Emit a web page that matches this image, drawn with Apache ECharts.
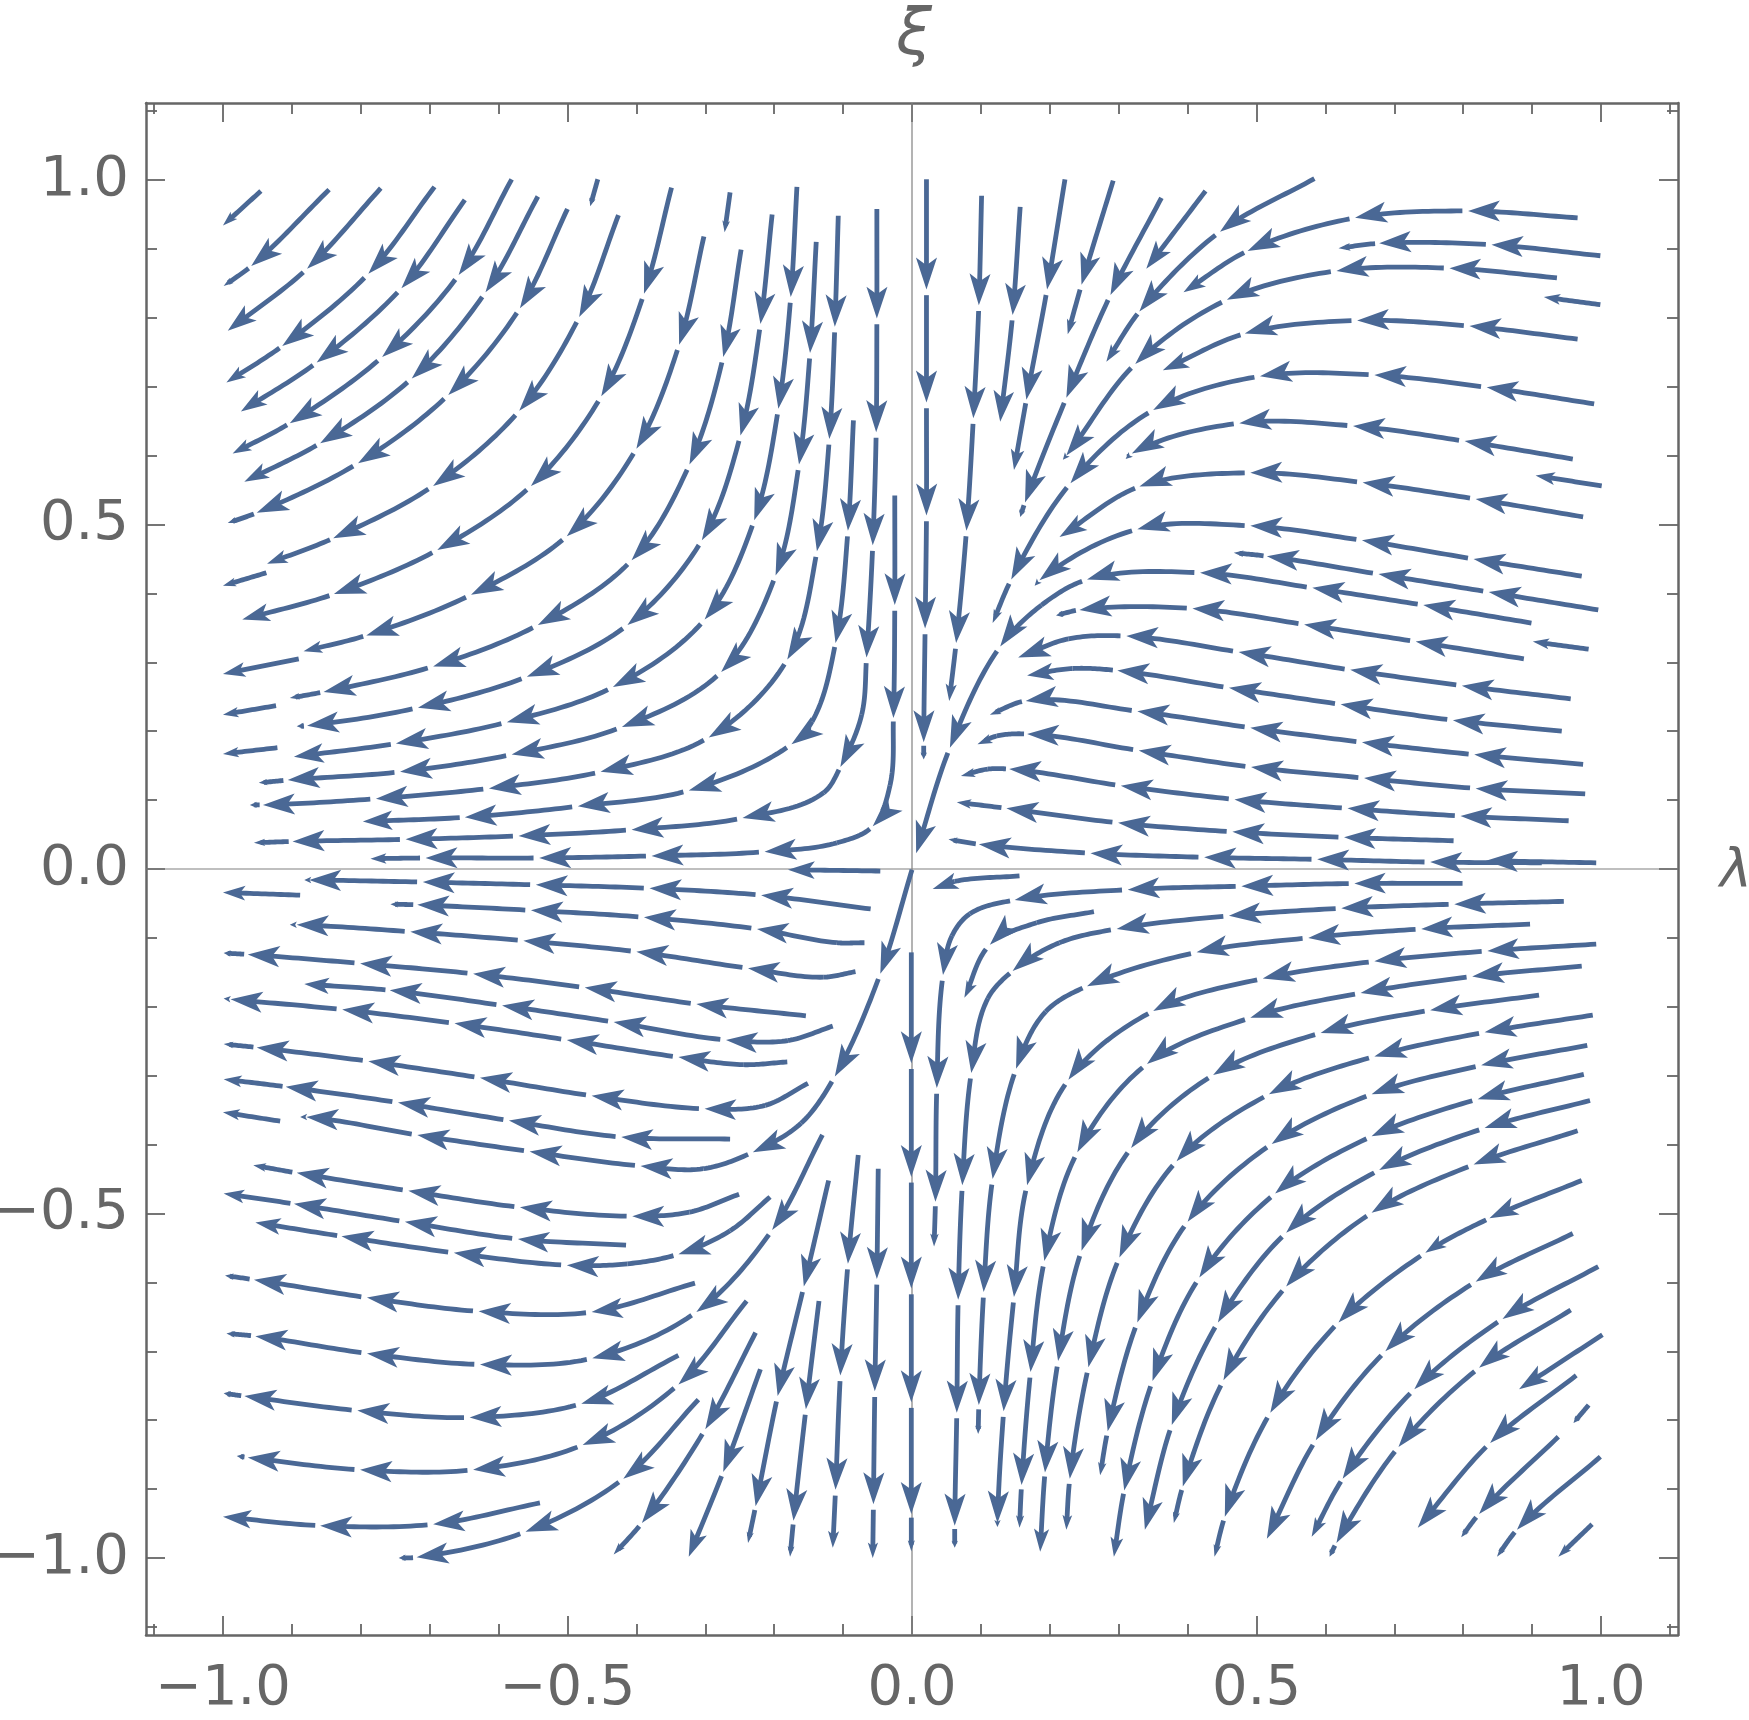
<!DOCTYPE html>
<html>
<head>
<meta charset="utf-8">
<style>html,body{margin:0;padding:0;background:#fff}#c{width:1749px;height:1720px}</style>
<script src="https://cdn.jsdelivr.net/npm/echarts@6/dist/echarts.min.js"></script>
</head>
<body>
<div id="c"></div>
<script>
// Streamlines in data units (lambda, xi), listed in flow direction.
// Each knot after the first ends one arrow; a third value 0 marks a knot without an arrow.
const upperLeft = [
[[-.945,.984],[-1,.934]],
[[-.846,.986],[-.959,.875],[-.999,.846]],
[[-.771,.988],[-.878,.871],[-.993,.781]],
[[-.693,.990],[-.789,.864],[-.914,.759],[-.995,.706]],
[[-.649,.971],[-.741,.843],[-.864,.735],[-.974,.664]],
[[-.581,1.001],[-.658,.862],[-.769,.743],[-.903,.647],[-.986,.603]],
[[-.543,.976],[-.619,.837],[-.726,.712],[-.859,.618],[-.969,.562]],
[[-.500,.958],[-.569,.814],[-.673,.688],[-.804,.589],[-.951,.517],[-.993,.502]],
[[-.456,1.001],[-.467,.962]],
[[-.426,.949],[-.483,.801],[-.570,.665],[-.695,.556],[-.840,.480],[-.936,.443]],
[[-.349,.989],[-.389,.835],[-.451,.686],[-.553,.556],[-.689,.463],[-.839,.399],[-.972,.362]],
[[-.937,.430],[-1,.411]],
[[-.264,.982],[-.272,.924]],
[[-.302,.918],[-.338,.761],[-.400,.610],[-.501,.483],[-.640,.398],[-.792,.339],[-.883,.316]],
[[-.890,.305],[-1,.283]],
[[-.248,.899],[-.274,.743],[-.323,.587],[-.407,.448],[-.543,.354],[-.695,.294],[-.854,.257],[-.903,.248]],
[[-.203,.950],[-.220,.791],[-.249,.629],[-.305,.477],[-.413,.354],[-.559,.279],[-.717,.234],[-.878,.208],[-.893,.207]],
[[-.923,.237],[-1,.224]],
[[-.167,.990],[-.176,.830],[-.194,.668],[-.229,.506],[-.301,.362],[-.434,.264],[-.588,.213],[-.749,.182],[-.897,.163]],
[[-.921,.176],[-1,.167]],
[[-.139,.910],[-.148,.749],[-.164,.587],[-.198,.426],[-.277,.286],[-.421,.206],[-.581,.166],[-.743,.141],[-.906,.129],[-.948,.125]],
[[-.107,.948],[-.112,.787],[-.120,.624],[-.138,.461],[-.181,.304],[-.295,.191],[-.452,.141],[-.614,.117],[-.778,.102],[-.942,.093],[-.961,.093]],
[[-.085,.651],[-.093,.491],[-.111,.328],[-.145,.214,0],[-.175,.181],[-.324,.114],[-.485,.091],[-.649,.075],[-.797,.069]],
[[-.051,.958],[-.051,.799],[-.052,.634],[-.057,.470],[-.066,.307],[-.073,.224,0],[-.104,.148],[-.128,.111,0],[-.246,.074],[-.407,.057],[-.571,.048],[-.735,.043],[-.899,.040],[-.955,.038]],
[[-.025,.542],[-.025,.383],[-.027,.219],[-.032,.121,0],[-.057,.062],[-.109,.038,0],[-.214,.025],[-.378,.019],[-.541,.016],[-.706,.016],[-.786,.015]]
];
const upperRight = [
[[.021,1.001],[.021,.841],[.021,.677],[.021,.513],[.019,.349],[.017,.184],[.017,.159]],
[[.101,.977],[.097,.818],[.089,.654],[.079,.491],[.064,.328],[.054,.244]],
[[.157,.961],[.146,.804],[.128,.649]],
[[.222,1.001],[.196,.841],[.166,.681],[.148,.579]],
[[.292,.999],[.246,.848],[.226,.776]],
[[.362,.974],[.288,.833],[.224,.684],[.164,.532],[.157,.511]],
[[.426,.984],[.340,.871]],
[[.584,1.002],[.447,.925],[.330,.809],[.282,.736]],
[[.966,.945],[.807,.955],[.643,.945],[.487,.897],[.394,.837]],
[[.999,.890],[.841,.906],[.678,.908],[.619,.901]],
[[.936,.858],[.780,.872],[.616,.868],[.457,.826],[.324,.733],[.224,.600],[.219,.594]],
[[.999,.819],[.917,.830]],
[[.966,.769],[.809,.788],[.646,.796],[.483,.777],[.364,.724]],
[[.990,.675],[.834,.699],[.671,.717],[.505,.715],[.350,.666],[.230,.560],[.144,.420],[.117,.357]],
[[.959,.595],[.802,.621],[.640,.643],[.475,.647],[.319,.603],[.310,.595]],
[[1.001,.556],[.905,.571]],
[[.974,.511],[.818,.537],[.654,.561],[.491,.575],[.330,.555],[.214,.482]],
[[.972,.425],[.815,.450],[.653,.477],[.491,.498],[.327,.493],[.185,.419],[.178,.411]],
[[.996,.376],[.837,.402],[.677,.428],[.515,.454],[.467,.459]],
[[.899,.357],[.742,.383],[.581,.408],[.418,.430],[.254,.420],[.188,.383,0],[.128,.323],[.055,.176],[.006,.023]],
[[.888,.305],[.731,.330],[.569,.355],[.407,.378],[.243,.376],[.209,.368]],
[[.982,.319],[.901,.330]],
[[.956,.247],[.798,.266],[.636,.289],[.474,.315],[.311,.338],[.227,.334,0],[.154,.307]],
[[.943,.200],[.785,.216],[.622,.239],[.460,.263],[.298,.288],[.233,.291,0],[.167,.281]],
[[.974,.152],[.816,.166],[.653,.184],[.491,.205],[.327,.229],[.165,.244],[.113,.224]],
[[.977,.109],[.818,.117],[.656,.132],[.492,.148],[.329,.172],[.167,.196],[.123,.193,0],[.095,.181]],
[[.953,.070],[.796,.077],[.632,.088],[.468,.101],[.303,.121],[.141,.145],[.110,.145,0],[.071,.135]],
[[.786,.041],[.627,.046],[.465,.054],[.299,.067],[.137,.088],[.065,.097]],
[[.993,.009],[.833,.012]],
[[.914,.009],[.752,.010],[.588,.014],[.424,.017],[.259,.023],[.097,.036],[.053,.043]]
];
const lowerLeft = [
[[-.046,-.003],[-.180,-.001]],
[[-.060,-.058],[-.219,-.038],[-.381,-.028],[-.546,-.023],[-.710,-.019],[-.875,-.016],[-.882,-.016]],
[[-.888,-.038],[-1,-.034]],
[[-.069,-.107],[-.109,-.107,0],[-.225,-.087],[-.389,-.070],[-.553,-.060],[-.718,-.052],[-.757,-.051]],
[[-.082,-.149],[-.128,-.157,0],[-.238,-.144],[-.400,-.120],[-.564,-.104],[-.728,-.091],[-.893,-.081],[-.903,-.081]],
[[-.154,-.213],[-.313,-.196],[-.475,-.172],[-.637,-.152],[-.801,-.137],[-.964,-.124],[-.999,-.122]],
[[-.115,-.228],[-.180,-.249,0],[-.270,-.248],[-.433,-.222],[-.595,-.198],[-.758,-.176],[-.882,-.167]],
[[-.181,-.280],[-.245,-.284,0],[-.339,-.273],[-.501,-.248],[-.664,-.224],[-.827,-.204],[-.989,-.189],[-.999,-.188]],
[[-.151,-.311],[-.213,-.343,0],[-.301,-.348],[-.465,-.329],[-.627,-.303],[-.789,-.279],[-.951,-.259],[-.999,-.254]],
[[-.264,-.392],[-.422,-.389],[-.585,-.365],[-.746,-.339],[-.909,-.316],[-.999,-.305]],
[[0,-.001],[-.046,-.152],[-.112,-.301],[-.161,-.369,0],[-.231,-.411],[-.303,-.435,0],[-.394,-.431],[-.555,-.410],[-.718,-.386],[-.879,-.360],[-.888,-.360]],
[[-.917,-.366],[-1,-.353]],
[[-.251,-.472],[-.323,-.498,0],[-.406,-.504],[-.569,-.491],[-.731,-.467],[-.893,-.441],[-.956,-.430]],
[[-.206,-.476],[-.264,-.525,0],[-.339,-.559],[-.413,-.573,0],[-.501,-.575],[-.665,-.557],[-.828,-.533],[-.953,-.513]],
[[-.415,-.546],[-.572,-.537],[-.736,-.512],[-.897,-.486],[-.999,-.471]],
[[-.130,-.386],[-.203,-.524],[-.313,-.643],[-.464,-.710],[-.627,-.719],[-.791,-.703],[-.953,-.678],[-.995,-.674]],
[[-.315,-.601],[-.465,-.643],[-.629,-.642],[-.791,-.622],[-.955,-.596],[-.997,-.590]],
[[-.339,-.706],[-.480,-.776],[-.642,-.796],[-.805,-.786],[-.969,-.765],[-.999,-.761]],
[[-.240,-.627],[-.339,-.748],[-.478,-.836],[-.637,-.872],[-.801,-.872],[-.964,-.854],[-.980,-.852]],
[[-.540,-.920],[-.695,-.951],[-.859,-.953],[-1,-.940]],
[[-.310,-.770],[-.419,-.885],[-.561,-.962],[-.719,-.999],[-.745,-1]],
[[-.227,-.673],[-.300,-.813],[-.392,-.949],[-.433,-.995]],
[[-.220,-.726],[-.274,-.875],[-.324,-.998]],
[[-.121,-.452],[-.157,-.606],[-.195,-.765],[-.227,-.925],[-.238,-.978]],
[[-.135,-.627],[-.154,-.784],[-.172,-.946],[-.177,-.998]],
[[-.078,-.415],[-.093,-.573],[-.104,-.735],[-.111,-.901],[-.115,-.985]],
[[-.049,-.435],[-.051,-.595],[-.054,-.758],[-.056,-.922],[-.057,-1]],
[[-.001,-.121],[-.001,-.282],[-.001,-.447],[-.001,-.609],[-.001,-.774],[-.001,-.936],[-.001,-.990]]
];
const lowerRight = [
[[.156,-.010],[.062,-.018,0],[.030,-.029]],
[[.799,-.021],[.642,-.021],[.478,-.025],[.313,-.030],[.149,-.045],[.084,-.065,0],[.058,-.097,0],[.045,-.154],[.036,-.318],[.034,-.483],[.032,-.548]],
[[.264,-.062],[.181,-.078,0],[.113,-.110],[.076,-.187]],
[[.946,-.047],[.787,-.051],[.623,-.057],[.460,-.068],[.297,-.087],[.214,-.107,0],[.146,-.148],[.110,-.188,0],[.086,-.296],[.073,-.459],[.067,-.625],[.065,-.789],[.062,-.953],[.062,-.985]],
[[.897,-.080],[.739,-.087],[.575,-.100],[.413,-.121],[.254,-.170],[.194,-.207,0],[.151,-.290],[.117,-.450],[.104,-.614],[.097,-.778],[.096,-.820]],
[[.993,-.109],[.835,-.119],[.671,-.134],[.509,-.159],[.350,-.206],[.227,-.306],[.167,-.459],[.148,-.621],[.133,-.787],[.124,-.949],[.124,-.955]],
[[.972,-.141],[.813,-.156],[.651,-.180],[.491,-.216],[.341,-.283],[.240,-.411],[.192,-.569],[.172,-.730],[.159,-.894],[.156,-.956]],
[[.910,-.183],[.752,-.205],[.593,-.238],[.437,-.299],[.318,-.405],[.246,-.554],[.212,-.714],[.193,-.876],[.186,-.991]],
[[.988,-.212],[.831,-.237],[.671,-.272],[.518,-.327],[.384,-.424],[.301,-.564],[.256,-.723],[.229,-.885],[.224,-.959]],
[[.980,-.256],[.826,-.285],[.667,-.327],[.522,-.399],[.400,-.512],[.327,-.658],[.284,-.816],[.273,-.880]],
[[.975,-.298],[.821,-.334],[.667,-.388],[.527,-.471],[.417,-.593],[.349,-.743],[.308,-.902],[.293,-.998]],
[[.984,-.336],[.831,-.376],[.678,-.437],[.543,-.528],[.444,-.658],[.377,-.807],[.338,-.959]],
[[.966,-.380],[.815,-.429],[.667,-.499],[.543,-.606],[.452,-.742],[.393,-.896],[.380,-.949]],
[[.972,-.452],[.838,-.507],[.745,-.557],[.619,-.658],[.520,-.789],[.454,-.940],[.439,-.998]],
[[.959,-.529],[.818,-.599],[.687,-.700],[.586,-.829],[.515,-.972]],
[[.996,-.577],[.857,-.653],[.729,-.755],[.625,-.885],[.580,-.969]],
[[.956,-.640],[.823,-.724],[.706,-.839],[.616,-.978],[.606,-.998]],
[[1.002,-.676],[.881,-.755]],
[[.964,-.735],[.839,-.833],[.734,-.956]],
[[.999,-.853],[.878,-.959],[.849,-.998]],
[[.938,-.824],[.823,-.936],[.797,-.970]],
[[.982,-.778],[.960,-.804]],
[[.987,-.951],[.938,-.998]]
];
const streams = upperLeft.concat(upperRight, lowerLeft, lowerRight);

const axisLimit = 1.1117;
const majorTicks = [-1, -0.5, 0, 0.5, 1];
const minorTicks = [-1.1, -0.9, -0.8, -0.7, -0.6, -0.4, -0.3, -0.2, -0.1, 0.1, 0.2, 0.3, 0.4, 0.6, 0.7, 0.8, 0.9, 1.1];
const zeroLineX = [[-axisLimit, 0], [axisLimit, 0]];
const zeroLineY = [[0, -axisLimit], [0, axisLimit]];

const GREY = '#666666', BLUE = '#4a6895', FONT = '"DejaVu Sans"';

function unit(a, b) {
  const dx = b[0] - a[0], dy = b[1] - a[1], d = Math.hypot(dx, dy) || 1;
  return [dx / d, dy / d];
}
function tangent(p, i) {
  const a = i > 0 ? unit(p[i - 1], p[i]) : null, b = i < p.length - 1 ? unit(p[i], p[i + 1]) : null;
  if (!a) return b;
  if (!b) return a;
  const s = [a[0] + b[0], a[1] + b[1]], d = Math.hypot(s[0], s[1]) || 1;
  return [s[0] / d, s[1] / d];
}
function hasArrow(stream, i) { return i > 0 && stream[i][2] !== 0; }

function streamRenderer(stream) {
  return function (params, api) {
    const i = params.dataIndex;
    if (i === 0) return null;
    const p = stream.map(k => api.coord([k[0], k[1]]));
    const a = p[i - 1], b = p[i];
    const len = Math.hypot(b[0] - a[0], b[1] - a[1]);
    const ta = tangent(p, i - 1), tb = tangent(p, i);
    const c1 = [a[0] + ta[0] * len / 3, a[1] + ta[1] * len / 3];
    const c2 = [b[0] - tb[0] * len / 3, b[1] - tb[1] * len / 3];
    const arrow = hasArrow(stream, i);
    let run = len;
    for (let j = i - 1; j > 0 && !hasArrow(stream, j); j--) {
      run += Math.hypot(p[j][0] - p[j - 1][0], p[j][1] - p[j - 1][1]);
    }
    const L = arrow ? Math.max(7, Math.min(32, run * 0.29)) : 0;
    const W = Math.max(3.2, L * 0.33);
    const gap = hasArrow(stream, i - 1) ? 3 : 0;
    const stop = L * 0.6;
    const pts = [];
    for (let s = 0; s <= 20; s++) {
      const t = s / 20, u = 1 - t;
      const q = [
        u * u * u * a[0] + 3 * u * u * t * c1[0] + 3 * u * t * t * c2[0] + t * t * t * b[0],
        u * u * u * a[1] + 3 * u * u * t * c1[1] + 3 * u * t * t * c2[1] + t * t * t * b[1]
      ];
      if (gap && Math.hypot(q[0] - a[0], q[1] - a[1]) < gap) continue;
      if (arrow && Math.hypot(q[0] - b[0], q[1] - b[1]) < stop) continue;
      pts.push(q);
    }
    if (arrow) pts.push([b[0] - tb[0] * stop, b[1] - tb[1] * stop]);
    const children = [{
      type: 'polyline', silent: true, shape: { points: pts },
      style: { stroke: BLUE, lineWidth: 4.8, fill: null }
    }];
    if (arrow) {
      const ux = tb[0], uy = tb[1], nx = -uy, ny = ux;
      children.push({
        type: 'polygon', silent: true,
        shape: { points: [
          [b[0], b[1]],
          [b[0] - ux * L + nx * W, b[1] - uy * L + ny * W],
          [b[0] - ux * L * 0.76, b[1] - uy * L * 0.76],
          [b[0] - ux * L - nx * W, b[1] - uy * L - ny * W]
        ] },
        style: { fill: BLUE, stroke: null }
      });
    }
    return { type: 'group', children: children };
  };
}

const fmt = v => v.toFixed(1).replace('-', '\u2212');
const label = { show: true, customValues: majorTicks, formatter: fmt, color: GREY, fontFamily: FONT, fontSize: 56 };
const hidden = { show: false };
function axis(kind, position, values, tickLen, withLabel, withLine) {
  const labelOpt = kind === 'x' ? { margin: 26 } : { margin: 17, padding: [5, 0, 0, 0] };
  return {
    type: 'value', position: position, min: -axisLimit, max: axisLimit,
    splitLine: hidden, minorTick: hidden,
    axisLine: withLine ? { show: true, onZero: false, lineStyle: { color: GREY, width: 2.5 } } : { show: false, onZero: false },
    axisTick: { show: true, inside: true, length: tickLen, customValues: values, lineStyle: { color: GREY, width: 1.8 } },
    axisLabel: withLabel ? Object.assign({}, label, labelOpt) : hidden
  };
}

const series = [
  { type: 'line', data: zeroLineX, showSymbol: false, silent: true, z: 1, lineStyle: { color: '#808080', width: 1.2 } },
  { type: 'line', data: zeroLineY, showSymbol: false, silent: true, z: 1, lineStyle: { color: '#808080', width: 1.2 } }
].concat(streams.map(stream => ({
  type: 'custom', coordinateSystem: 'cartesian2d', z: 2, silent: true, clip: false,
  data: stream.map(k => [k[0], k[1]]), encode: { x: 0, y: 1 },
  renderItem: streamRenderer(stream)
})));

const chart = echarts.init(document.getElementById('c'), null, { renderer: 'canvas' });
chart.setOption({
  animation: false,
  backgroundColor: '#ffffff',
  grid: { left: 146, right: 71, top: 103, bottom: 85, containLabel: false, outerBoundsMode: 'none' },
  title: [
    { text: '\u03be', left: 909, top: 0, textAlign: 'center', textStyle: { color: GREY, fontFamily: FONT, fontStyle: 'italic', fontWeight: 'normal', fontSize: 64 } },
    { text: '\u03bb', left: 1731, top: 841, textAlign: 'center', textStyle: { color: GREY, fontFamily: FONT, fontStyle: 'italic', fontWeight: 'normal', fontSize: 54 } }
  ],
  xAxis: [
    axis('x', 'bottom', majorTicks, 19, true, true),
    axis('x', 'bottom', minorTicks, 11, false, false),
    axis('x', 'top', majorTicks, 19, false, true),
    axis('x', 'top', minorTicks, 11, false, false)
  ],
  yAxis: [
    axis('y', 'left', majorTicks, 19, true, true),
    axis('y', 'left', minorTicks, 11, false, false),
    axis('y', 'right', majorTicks, 19, false, true),
    axis('y', 'right', minorTicks, 11, false, false)
  ],
  series: series
});
</script>
</body>
</html>
